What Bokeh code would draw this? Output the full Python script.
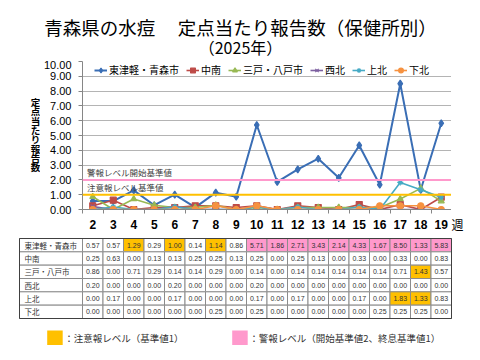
from bokeh.plotting import figure
from bokeh.models import Range1d, FixedTicker, NumeralTickFormatter, Span, Label, Legend, LegendItem, ColumnDataSource
from bokeh.layouts import row
from bokeh.embed import file_html
from bokeh.resources import INLINE
from bokeh.core.properties import value

weeks = list(range(2, 20))
series_names = ["東津軽・青森市", "中南", "三戸・八戸市", "西北", "上北", "下北"]
higashi = [0.57, 0.57, 1.29, 0.29, 1.00, 0.14, 1.14, 0.86, 5.71, 1.86, 2.71, 3.43, 2.14, 4.33, 1.67, 8.50, 1.33, 5.83]
chunan = [0.25, 0.63, 0.00, 0.13, 0.13, 0.25, 0.25, 0.13, 0.25, 0.00, 0.25, 0.13, 0.00, 0.33, 0.00, 0.33, 0.00, 0.83]
sannohe = [0.86, 0.00, 0.71, 0.29, 0.14, 0.14, 0.29, 0.00, 0.14, 0.00, 0.14, 0.14, 0.14, 0.14, 0.14, 0.71, 1.43, 0.57]
seihoku = [0.20, 0.00, 0.00, 0.00, 0.20, 0.00, 0.00, 0.00, 0.20, 0.00, 0.00, 0.00, 0.00, 0.00, 0.00, 0.00, 0.00, 0.00]
kamikita = [0.00, 0.17, 0.00, 0.00, 0.17, 0.00, 0.00, 0.00, 0.17, 0.00, 0.17, 0.00, 0.00, 0.17, 0.00, 1.83, 1.33, 0.83]
shimokita = [0.00, 0.00, 0.00, 0.00, 0.00, 0.00, 0.25, 0.00, 0.25, 0.00, 0.00, 0.00, 0.00, 0.00, 0.25, 0.25, 0.25, 0.00]
series_values = [higashi, chunan, sannohe, seihoku, kamikita, shimokita]
y_ticks = [0, 1, 2, 3, 4, 5, 6, 7, 8, 9, 10]
alarm_level = 2.0
warning_level = 1.0
title1 = "青森県の水痘　 定点当たり報告数（保健所別）"
title2 = "（2025年）"
ylabel = "定点当たり報告数"
week_label = "週"
alarm_label = "警報レベル開始基準値"
warning_label = "注意報レベル基準値"
legend_warning = "：注意報レベル（基準値1）"
legend_alarm = "：警報レベル（開始基準値2、終息基準値1）"

colors = ["#3A6EB5", "#BE4B48", "#98B954", "#7D60A0", "#46AAC5", "#F69240"]
markers = ["diamond", "square", "triangle", "x", "asterisk", "circle"]
YELLOW = "#FFC000"
PINK = "#FF99CC"
JP = "Noto Sans CJK JP"
NUM = "Liberation Sans"

HEAD_H = 60
TOP_H = 236 - HEAD_H
FRAME_TOP, FRAME_BOT = 61, 209
B_TOP, B_BOT = FRAME_TOP - HEAD_H, 236 - FRAME_BOT
YL_W, WK_W = 40, 29
FRAME_W = 369

# ---------------- header ----------------
h = figure(width=480, height=HEAD_H, x_range=Range1d(0, 480), y_range=Range1d(HEAD_H, 0),
           output_backend="svg", toolbar_location=None, min_border=0,
           x_axis_location=None, y_axis_location=None)
h.grid.visible = False
h.outline_line_color = None
h.text(x=[240], y=[26.5], text=[title1], text_font=value(JP), text_font_size="18.5px",
       text_color="#000000", text_align="center", text_baseline="middle")
h.text(x=[240], y=[46], text=[title2], text_font=value(JP), text_font_size="16px",
       text_color="#000000", text_align="center", text_baseline="middle")

# ---------------- y-label strip ----------------
yl = figure(width=YL_W, height=TOP_H, x_range=Range1d(0, YL_W), y_range=Range1d(FRAME_BOT, FRAME_TOP),
            output_backend="svg", toolbar_location=None, min_border_left=0, min_border_right=0,
            min_border_top=B_TOP, min_border_bottom=B_BOT, x_axis_location=None, y_axis_location=None)
yl.grid.visible = False
yl.outline_line_color = None
chars = list(ylabel)
yl.text(x=[35] * len(chars), y=[101.5 + i * 9.3 for i in range(len(chars))], text=chars,
        text_font=value(JP), text_font_size="9.5px", text_font_style="bold", text_color="#000000",
        text_align="center", text_baseline="middle")

# ---------------- chart ----------------
p = figure(width=FRAME_W + (82 - YL_W), height=TOP_H, x_range=Range1d(1.5, 19.5), y_range=Range1d(0, 10),
           output_backend="svg", toolbar_location=None,
           min_border_left=82 - YL_W, min_border_right=0, min_border_top=B_TOP, min_border_bottom=B_BOT)
p.outline_line_color = None
p.xgrid.visible = False
p.ygrid.grid_line_color = "#B4B4B4"
p.ygrid.ticker = FixedTicker(ticks=y_ticks)

p.yaxis.ticker = FixedTicker(ticks=y_ticks)
p.yaxis.formatter = NumeralTickFormatter(format="0.00")
p.yaxis.major_label_text_font = NUM
p.yaxis.major_label_text_font_size = "11px"
p.yaxis.major_label_text_color = "#000000"
p.yaxis.axis_line_color = "#868686"
p.yaxis.major_tick_line_color = "#868686"
p.yaxis.major_tick_out = 4
p.yaxis.major_tick_in = 0
p.yaxis.minor_tick_line_color = None
p.yaxis.major_label_standoff = 7

p.xaxis.ticker = FixedTicker(ticks=weeks, minor_ticks=[w - 0.5 for w in weeks] + [weeks[-1] + 0.5])
p.xaxis.major_label_text_font = NUM
p.xaxis.major_label_text_font_size = "12px"
p.xaxis.major_label_text_font_style = "bold"
p.xaxis.major_label_text_color = "#000000"
p.xaxis.axis_line_color = "#868686"
p.xaxis.major_tick_line_color = None
p.xaxis.major_tick_out = 0
p.xaxis.major_tick_in = 0
p.xaxis.minor_tick_line_color = "#868686"
p.xaxis.minor_tick_out = 4
p.xaxis.minor_tick_in = 0
p.xaxis.major_label_standoff = 6

p.add_layout(Span(location=alarm_level, dimension="width", line_color=PINK, line_width=2))
p.add_layout(Span(location=warning_level, dimension="width", line_color=YELLOW, line_width=2))
p.add_layout(Label(x=1.72, y=alarm_level, y_offset=2, text=alarm_label, text_font=JP,
                   text_font_size="8.5px", text_color="#404040", text_baseline="bottom"))
p.add_layout(Label(x=1.72, y=warning_level, y_offset=2, text=warning_label, text_font=JP,
                   text_font_size="8.5px", text_color="#404040", text_baseline="bottom"))

items = []
for name, vals, c, m in zip(series_names, series_values, colors, markers):
    src = ColumnDataSource(dict(x=weeks, y=vals))
    lw = 2 if name == series_names[0] else 1.6
    r1 = p.line("x", "y", source=src, line_color=c, line_width=lw)
    r2 = p.scatter("x", "y", source=src, marker=m, size=7 if m == "diamond" else 6,
                   line_color=c, fill_color=c, line_width=1.2)
    items.append(LegendItem(label=name, renderers=[r1, r2]))

leg = Legend(items=items, orientation="horizontal", location=(12, 132),
             label_text_font=JP, label_text_font_size="10px", label_text_color="#000000",
             glyph_width=13, glyph_height=12, label_standoff=2, spacing=7, padding=1,
             margin=0, border_line_color=None, background_fill_alpha=0.0, label_height=12)
p.add_layout(leg, "center")

# ---------------- week strip ----------------
wk = figure(width=WK_W, height=TOP_H, x_range=Range1d(0, WK_W), y_range=Range1d(0, 1),
            output_backend="svg", toolbar_location=None, min_border_left=0, min_border_right=0,
            min_border_top=B_TOP, min_border_bottom=B_BOT, y_axis_location=None)
wk.grid.visible = False
wk.outline_line_color = None
wk.xaxis.ticker = FixedTicker(ticks=[6])
wk.xaxis.major_label_overrides = {6: week_label}
wk.xaxis.major_label_text_font = JP
wk.xaxis.major_label_text_font_size = "12px"
wk.xaxis.major_label_text_color = "#000000"
wk.xaxis.axis_line_color = None
wk.xaxis.major_tick_line_color = None
wk.xaxis.minor_tick_line_color = None
wk.xaxis.major_tick_out = 0
wk.xaxis.major_tick_in = 0
wk.xaxis.major_label_standoff = 6

top = row(yl, p, wk, spacing=0)

# ---------------- table ----------------
BOT_H = 360 - 236
px_per_week = FRAME_W / 18.0
xs0 = 1.5 - 82 / px_per_week
xs1 = 19.5 + WK_W / px_per_week
t = figure(width=480, height=BOT_H, x_range=Range1d(xs0, xs1), y_range=Range1d(BOT_H, 0),
           output_backend="svg", toolbar_location=None, min_border=0,
           x_axis_location=None, y_axis_location=None)
t.grid.visible = False
t.outline_line_color = None

row_h = 80 / 6.0
top0 = 238 - 236
label_left = 1.5 - 63 / px_per_week


def level_colors(vals):
    out = []
    alarm = False
    for v in vals:
        if alarm:
            if v < warning_level:
                alarm = False
        elif v >= alarm_level:
            alarm = True
        if alarm:
            out.append(PINK)
        elif v >= warning_level:
            out.append(YELLOW)
        else:
            out.append("#FFFFFF")
    return out


cl, cr, ct, cb, cf, tx, ty, tt = [], [], [], [], [], [], [], []
for r, vals in enumerate(series_values):
    ytop = top0 + r * row_h
    fills = level_colors(vals)
    for w, v, f in zip(weeks, vals, fills):
        cl.append(w - 0.5); cr.append(w + 0.5); ct.append(ytop); cb.append(ytop + row_h); cf.append(f)
        tx.append(w); ty.append(ytop + row_h / 2); tt.append(f"{v:.2f}")
t.quad(left=cl, right=cr, top=ct, bottom=cb, fill_color=cf, line_color="#8C8C8C", line_width=1)
t.quad(left=[label_left] * 6, right=[1.5] * 6,
       top=[top0 + r * row_h for r in range(6)], bottom=[top0 + (r + 1) * row_h for r in range(6)],
       fill_color="#FFFFFF", line_color="#8C8C8C", line_width=1)
t.quad(left=[label_left], right=[19.5], top=[top0], bottom=[top0 + 6 * row_h],
       fill_color=None, line_color="#404040", line_width=1)
t.text(x=tx, y=ty, text=tt, text_font=value(NUM), text_font_size="7px", text_color="#333333",
       text_align="center", text_baseline="middle")
t.text(x=[label_left + 5 / px_per_week] * 6, y=[top0 + (r + 0.5) * row_h for r in range(6)],
       text=series_names, text_font=value(JP), text_font_size="7.5px", text_color="#333333",
       text_align="left", text_baseline="middle")

# bottom legend
sq = 15.5 / px_per_week
ylx = 1.5 + (46.7 - 82) / px_per_week
plx = 1.5 + (231.7 - 82) / px_per_week
t.quad(left=[ylx, plx], right=[ylx + sq, plx + sq], top=[330 - 236] * 2, bottom=[344.5 - 236] * 2,
       fill_color=[YELLOW, PINK], line_color=None)
t.text(x=[ylx + sq + 1.5 / px_per_week, plx + sq + 1.5 / px_per_week], y=[337.5 - 236] * 2,
       text=[legend_warning, legend_alarm], text_font=value(JP), text_font_size="9.5px",
       text_color="#333333", text_align="left", text_baseline="middle")

open("out.html", "w").write(file_html([h, top, t], INLINE))
